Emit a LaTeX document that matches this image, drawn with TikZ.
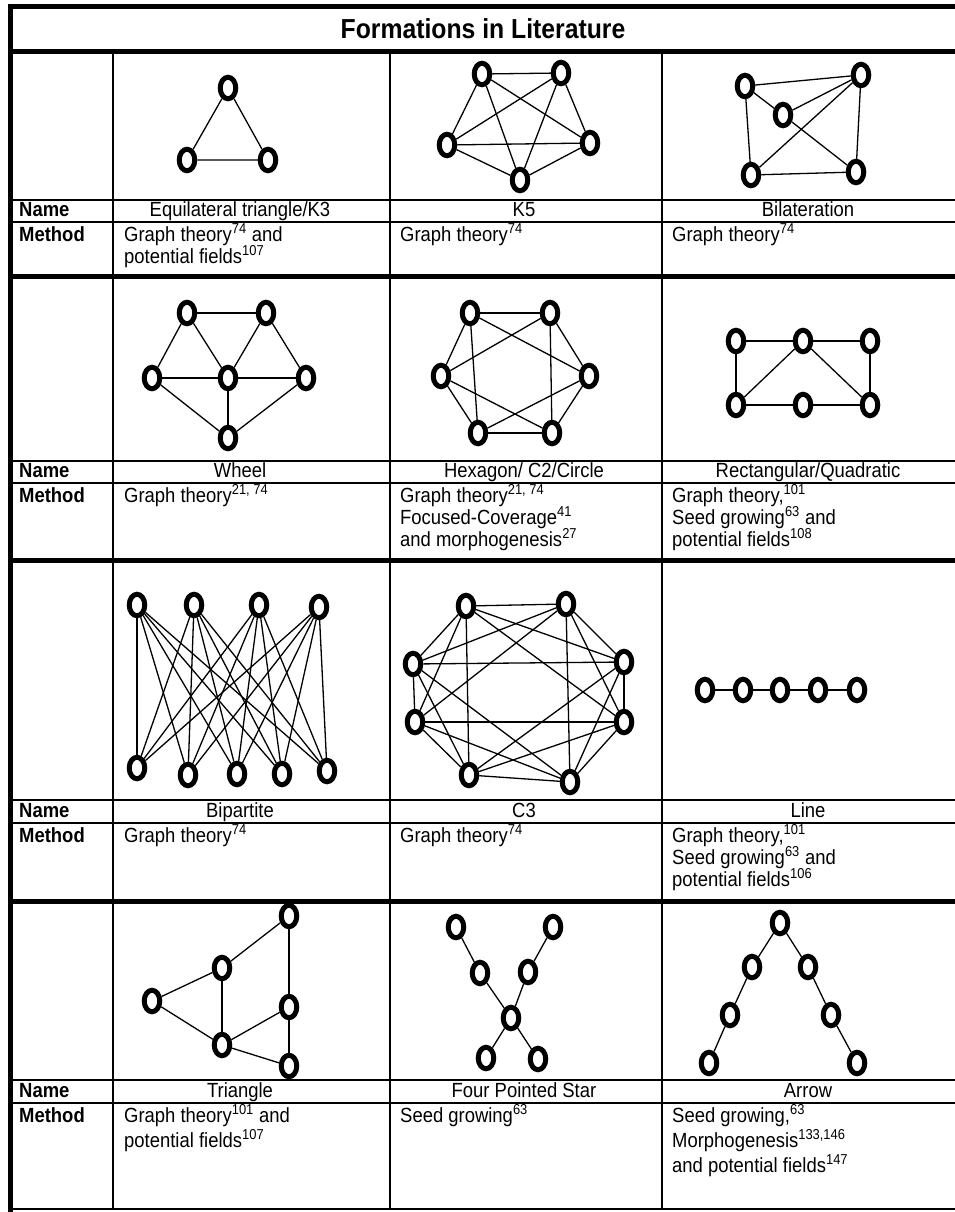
\documentclass[tikz,border=0pt]{standalone}
\usepackage{fontspec}
\setmainfont{Liberation Sans}[FakeStretch=0.9]
\usetikzlibrary{shapes.geometric}
\tikzset{
  nd/.style={ellipse, draw=black, line width=5pt, fill=white, minimum width=15.5pt, minimum height=21.5pt, inner sep=0pt},
  ed/.style={line width=1.3pt},
  thickrule/.style={line width=5pt},
  thinrule/.style={line width=1.8pt},
  txt/.style={font=\fontsize{20.5}{22.5}\selectfont, inner sep=0pt},
  nametxt/.style={txt, anchor=base},
  meth/.style={txt, anchor=base west},
  hdr/.style={font=\fontsize{20.5}{22}\selectfont\bfseries, inner sep=0pt, anchor=base west},
  ttl/.style={font=\fontsize{27.5}{28}\selectfont\bfseries, inner sep=0pt, anchor=base}
}
\begin{document}
\begin{tikzpicture}[x=1pt,y=-1pt]
\useasboundingbox (0,0) rectangle (955,1212);
% ---------- table rules ----------
\draw[thinrule] (113,52) -- (113,1209) (390,52) -- (390,1209) (662,52) -- (662,1209);
\foreach \yy in {200,222,461,483,800,823,1080,1103,1209}{\draw[thinrule] (10,\yy) -- (955,\yy);}
\foreach \yy in {7,52,276,560,901}{\draw[thickrule] (8,\yy) -- (955,\yy);}
\draw[thickrule] (10.5,5) -- (10.5,1212);
% ---------- title ----------
\node[ttl] (title) at (483,39) {Formations in Literature};
% ---------- row labels ----------
\foreach \yy/\nm in {216.5/n1,477.5/n2,817.5/n3,1097.5/n4}{\node[hdr] (\nm) at (19,\yy) {Name};}
\foreach \yy/\nm in {241/m1,502/m2,842/m3,1122/m4}{\node[hdr] (\nm) at (19,\yy) {Method};}
% ---------- row 1 ----------
\node[nametxt] (a1) at (240,216.5) {Equilateral triangle/K3};
\node[nametxt] (a2) at (524,216.5) {K5};
\node[nametxt] (a3) at (808,216.5) {Bilateration};
\node[meth] (b1a) at (124,241) {Graph theory\textsuperscript{74} and};
\node[meth] (b1b) at (124,263) {potential fields\textsuperscript{107}};
\node[meth] (b2) at (400,241) {Graph theory\textsuperscript{74}};
\node[meth] (b3) at (672,241) {Graph theory\textsuperscript{74}};
% triangle K3
\node[nd] (t1) at (228,88) {};
\node[nd] (t2) at (187,160) {};
\node[nd] (t3) at (268,160) {};
\draw[ed] (t1) -- (t2) (t1) -- (t3) (t2) -- (t3);
% K5
\node[nd] (k1) at (482,74) {};
\node[nd] (k2) at (561,73) {};
\node[nd] (k3) at (447,145) {};
\node[nd] (k4) at (590,143) {};
\node[nd] (k5) at (520,180) {};
\foreach \a/\b in {k1/k2,k1/k3,k1/k4,k1/k5,k2/k3,k2/k4,k2/k5,k3/k4,k3/k5,k4/k5}{\draw[ed] (\a) -- (\b);}
% Bilateration
\node[nd] (q1) at (745,86) {};
\node[nd] (q2) at (861,75) {};
\node[nd] (q3) at (783,115) {};
\node[nd] (q4) at (751,175) {};
\node[nd] (q5) at (856,172) {};
\foreach \a/\b in {q1/q2,q1/q3,q1/q4,q3/q2,q3/q5,q2/q4,q2/q5,q4/q5}{\draw[ed] (\a) -- (\b);}
% ---------- row 2 ----------
\node[nametxt] (c1) at (240,477.5) {Wheel};
\node[nametxt] (c2) at (524,477.5) {Hexagon/ C2/Circle};
\node[nametxt] (c3) at (808,477.5) {Rectangular/Quadratic};
\node[meth] (d1) at (124,502) {Graph theory\textsuperscript{21, 74}};
\node[meth] (d2a) at (400,502) {Graph theory\textsuperscript{21, 74}};
\node[meth] (d2b) at (400,524) {Focused-Coverage\textsuperscript{41}};
\node[meth] (d2c) at (400,546) {and morphogenesis\textsuperscript{27}};
\node[meth] (d3a) at (672,502) {Graph theory,\textsuperscript{101}};
\node[meth] (d3b) at (672,524) {Seed growing\textsuperscript{63} and};
\node[meth] (d3c) at (672,546) {potential fields\textsuperscript{108}};
% wheel
\node[nd] (w1) at (187,313) {};
\node[nd] (w2) at (266,313) {};
\node[nd] (w3) at (152,378) {};
\node[nd] (w4) at (228,378) {};
\node[nd] (w5) at (306,378) {};
\node[nd] (w6) at (228,438) {};
\foreach \a/\b in {w1/w2,w1/w3,w1/w4,w2/w4,w2/w5,w3/w4,w4/w5,w3/w6,w4/w6,w5/w6}{\draw[ed] (\a) -- (\b);}
% hexagon C2
\node[nd] (h1) at (470,313) {};
\node[nd] (h2) at (550,313) {};
\node[nd] (h3) at (589,376) {};
\node[nd] (h4) at (552,433) {};
\node[nd] (h5) at (478,433) {};
\node[nd] (h6) at (441,376) {};
\foreach \a/\b in {h1/h2,h2/h3,h3/h4,h4/h5,h5/h6,h6/h1,h1/h3,h2/h4,h3/h5,h4/h6,h5/h1,h6/h2}{\draw[ed] (\a) -- (\b);}
% rectangular
\node[nd] (r1) at (736,341) {};
\node[nd] (r2) at (803,341) {};
\node[nd] (r3) at (870,341) {};
\node[nd] (r4) at (736,405) {};
\node[nd] (r5) at (803,405) {};
\node[nd] (r6) at (870,405) {};
\foreach \a/\b in {r1/r2,r2/r3,r4/r5,r5/r6,r1/r4,r3/r6,r2/r4,r2/r6}{\draw[ed] (\a) -- (\b);}
% ---------- row 3 ----------
\node[nametxt] (e1) at (240,817.5) {Bipartite};
\node[nametxt] (e2) at (524,817.5) {C3};
\node[nametxt] (e3) at (808,817.5) {Line};
\node[meth] (f1) at (124,842) {Graph theory\textsuperscript{74}};
\node[meth] (f2) at (400,842) {Graph theory\textsuperscript{74}};
\node[meth] (f3a) at (672,842) {Graph theory,\textsuperscript{101}};
\node[meth] (f3b) at (672,864) {Seed growing\textsuperscript{63} and};
\node[meth] (f3c) at (672,886) {potential fields\textsuperscript{106}};
% bipartite
\node[nd] (u1) at (137,605) {};
\node[nd] (u2) at (194,605) {};
\node[nd] (u3) at (259,605) {};
\node[nd] (u4) at (319,607) {};
\node[nd] (v1) at (137,768) {};
\node[nd] (v2) at (188,775) {};
\node[nd] (v3) at (237,774) {};
\node[nd] (v4) at (282,774) {};
\node[nd] (v5) at (327,771) {};
\foreach \a in {u1,u2,u3,u4}{\foreach \b in {v1,v2,v3,v4,v5}{\draw[ed] (\a) -- (\b);}}
% C3 (8 nodes, circulant)
\node[nd] (g0) at (466,606) {};
\node[nd] (g1) at (566,604) {};
\node[nd] (g2) at (624,662) {};
\node[nd] (g3) at (624,722) {};
\node[nd] (g4) at (570,782) {};
\node[nd] (g5) at (469,775) {};
\node[nd] (g6) at (415,722) {};
\node[nd] (g7) at (413,664) {};
\foreach \a/\b in {g0/g1,g1/g2,g2/g3,g3/g4,g4/g5,g5/g6,g6/g7,g7/g0,
  g0/g2,g1/g3,g2/g4,g3/g5,g4/g6,g5/g7,g6/g0,g7/g1,
  g0/g3,g1/g4,g2/g5,g3/g6,g4/g7,g5/g0,g6/g1,g7/g2}{\draw[ed] (\a) -- (\b);}
% line
\node[nd] (l1) at (705,690) {};
\node[nd] (l2) at (743,690) {};
\node[nd] (l3) at (780,690) {};
\node[nd] (l4) at (818,690) {};
\node[nd] (l5) at (857,690) {};
\draw[ed] (l1) -- (l2) -- (l3) -- (l4) -- (l5);
% ---------- row 4 ----------
\node[nametxt] (i1) at (240,1097.5) {Triangle};
\node[nametxt] (i2) at (524,1097.5) {Four Pointed Star};
\node[nametxt] (i3) at (808,1097.5) {Arrow};
\node[meth] (j1a) at (124,1122) {Graph theory\textsuperscript{101} and};
\node[meth] (j1b) at (124,1147) {potential fields\textsuperscript{107}};
\node[meth] (j2) at (400,1122) {Seed growing\textsuperscript{63}};
\node[meth] (j3a) at (672,1122) {Seed growing,\textsuperscript{63}};
\node[meth] (j3b) at (672,1147) {Morphogenesis\textsuperscript{133,146}};
\node[meth] (j3c) at (672,1172) {and potential fields\textsuperscript{147}};
% triangle
\node[nd] (p1) at (289,916) {};
\node[nd] (p2) at (222,968) {};
\node[nd] (p3) at (152,1001) {};
\node[nd] (p4) at (289,1007) {};
\node[nd] (p5) at (222,1045) {};
\node[nd] (p6) at (289,1066) {};
\foreach \a/\b in {p3/p2,p2/p1,p2/p5,p1/p4,p4/p5,p3/p5,p5/p6,p4/p6}{\draw[ed] (\a) -- (\b);}
% four pointed star
\node[nd] (s1) at (456,927) {};
\node[nd] (s2) at (553,927) {};
\node[nd] (s3) at (480,973) {};
\node[nd] (s4) at (528,972) {};
\node[nd] (s5) at (511,1018) {};
\node[nd] (s6) at (486,1058) {};
\node[nd] (s7) at (538,1059) {};
\foreach \a/\b in {s1/s3,s3/s5,s2/s4,s4/s5,s5/s6,s5/s7}{\draw[ed] (\a) -- (\b);}
% arrow
\node[nd] (z1) at (780,923) {};
\node[nd] (z2) at (752,967) {};
\node[nd] (z3) at (730,1015) {};
\node[nd] (z4) at (709,1063) {};
\node[nd] (z5) at (808,967) {};
\node[nd] (z6) at (831,1015) {};
\node[nd] (z7) at (857,1063) {};
\draw[ed] (z4) -- (z3) -- (z2) -- (z1) -- (z5) -- (z6) -- (z7);
\end{tikzpicture}
\end{document}
